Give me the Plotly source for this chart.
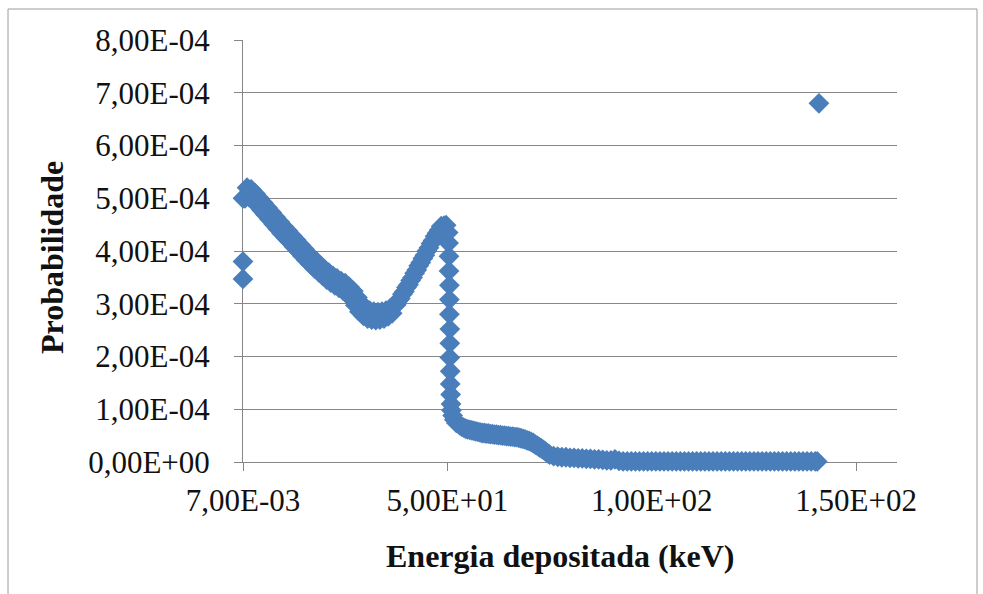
import plotly.graph_objects as go

# ---- data (energy in keV, probability in units of 1e-4) ----
# main series (upper track of the noisy low-energy region, then the rest)
energia_kev = [
    0.007, 0.007, 0.007,
    1, 2, 3, 4, 5, 6, 7, 8, 9, 10,
    11, 12, 13, 14, 15, 16, 17, 18, 19, 20,
    21, 22, 23, 24, 25, 26, 27, 28, 29, 30,
    31, 32, 33, 34, 35, 36, 37, 38, 39, 40,
    41, 42, 43, 44, 45, 46, 47, 48, 48.5, 49.2,
    49.7, 50.2, 50.3, 50.4, 50.4, 50.5, 50.5, 50.5, 50.6, 50.6,
    50.6, 50.7, 50.7, 50.8, 50.9, 51.0, 51.3, 51.7, 52.2, 53,
    54, 55, 56, 57, 58, 59, 60, 61, 62, 63,
    64, 65, 66, 67, 68, 69, 70, 71, 72, 73,
    74, 75, 76, 77, 78, 79, 80, 81, 82, 83,
    84, 85, 86, 87, 88, 89, 90, 91, 92, 93,
    94, 95, 96, 97, 98, 99, 100, 101, 102, 103,
    104, 105, 106, 107, 108, 109, 110, 111, 112, 113,
    114, 115, 116, 117, 118, 119, 120, 121, 122, 123,
    124, 125, 126, 127, 128, 129, 130, 131, 132, 133,
    134, 135, 136, 137, 138, 139, 140, 140.5, 140.9,
]
prob_1e4 = [
    5.00, 3.80, 3.47,
    5.20, 5.17, 5.09, 5.00, 4.91, 4.82, 4.73, 4.64, 4.55, 4.46,
    4.38, 4.29, 4.21, 4.12, 4.04, 3.95, 3.87, 3.80, 3.72, 3.65,
    3.59, 3.53, 3.48, 3.43, 3.39, 3.32, 3.24, 3.12, 3.00, 2.92,
    2.87, 2.85, 2.84, 2.85, 2.87, 2.91, 2.96, 3.06, 3.18, 3.31,
    3.44, 3.58, 3.72, 3.86, 4.00, 4.14, 4.28, 4.40, 4.47, 4.48,
    4.49, 4.35, 4.15, 3.90, 3.62, 3.35, 3.08, 2.80, 2.52, 2.25,
    1.98, 1.72, 1.48, 1.28, 1.10, 0.98, 0.88, 0.80, 0.74, 0.70,
    0.65, 0.62, 0.60, 0.58, 0.56, 0.55, 0.54, 0.53, 0.52, 0.51,
    0.50, 0.49, 0.48, 0.47, 0.45, 0.43, 0.40, 0.36, 0.31, 0.26,
    0.20, 0.14, 0.11, 0.10, 0.09, 0.09, 0.08, 0.08, 0.07, 0.07,
    0.06, 0.06, 0.05, 0.05, 0.04, 0.03, 0.03, 0.05, 0.02, 0.01,
    0.01, 0.01, 0.01, 0.01, 0.01, 0.01, 0.01, 0.01, 0.01, 0.01,
    0.01, 0.01, 0.01, 0.01, 0.01, 0.01, 0.01, 0.01, 0.01, 0.01,
    0.01, 0.01, 0.01, 0.01, 0.01, 0.01, 0.01, 0.01, 0.01, 0.01,
    0.01, 0.01, 0.01, 0.01, 0.01, 0.01, 0.01, 0.01, 0.01, 0.01,
    0.01, 0.01, 0.01, 0.01, 0.01, 0.01, 0.01, 0.01, 6.80,
]
# intermediate points (lower track of the noisy region, rise and plateau)
energia_kev_meio = [
    0.5, 1.5, 2.5, 3.5, 4.5, 5.5, 6.5, 7.5, 8.5, 9.5,
    10.5, 11.5, 12.5, 13.5, 14.5, 15.5, 16.5, 17.5, 18.5, 19.5,
    20.5, 21.5, 22.5, 23.5, 24.5, 25.5, 26.5, 27.5, 28.5, 29.5,
    30.5, 31.5, 32.5, 33.5, 34.5, 35.5, 36.5, 37.5, 38.5, 39.5,
    40.5, 41.5, 42.5, 43.5, 44.5, 45.5, 46.5, 47.5, 53.5, 54.5,
    55.5, 56.5, 57.5, 58.5, 59.5, 60.5, 61.5, 62.5, 63.5, 64.5,
    65.5, 66.5, 67.5, 68.5, 69.5, 70.5, 71.5, 72.5, 73.5, 74.5,
]
prob_meio_1e4 = [
    5.00, 5.02, 4.96, 4.87, 4.78, 4.69, 4.60, 4.51, 4.42, 4.33,
    4.25, 4.17, 4.08, 4.00, 3.91, 3.83, 3.75, 3.67, 3.60, 3.53,
    3.46, 3.40, 3.35, 3.30, 3.25, 3.19, 3.10, 2.97, 2.85, 2.77,
    2.72, 2.70, 2.69, 2.70, 2.72, 2.76, 2.82, 2.98, 3.10, 3.23,
    3.36, 3.50, 3.64, 3.78, 3.92, 4.06, 4.20, 4.34, 0.67, 0.63,
    0.61, 0.59, 0.57, 0.55, 0.54, 0.53, 0.52, 0.51, 0.50, 0.49,
    0.48, 0.47, 0.46, 0.44, 0.41, 0.38, 0.33, 0.28, 0.23, 0.17,
]

x_tick_vals = [0.007, 50, 100, 150]
x_tick_text = ["7,00E-03", "5,00E+01", "1,00E+02", "1,50E+02"]
y_tick_vals = [0, 1e-4, 2e-4, 3e-4, 4e-4, 5e-4, 6e-4, 7e-4, 8e-4]
y_tick_text = ["0,00E+00", "1,00E-04", "2,00E-04", "3,00E-04", "4,00E-04",
               "5,00E-04", "6,00E-04", "7,00E-04", "8,00E-04"]

x_title = "Energia depositada (keV)"
y_title = "Probabilidade"

xs = energia_kev + energia_kev_meio
ys = [v * 1e-4 for v in prob_1e4 + prob_meio_1e4]

# ---- figure ----
W, H = 983, 594
L, R, T, B = 243, 86, 40, 132
pw, ph = W - L - R, H - T - B

def px(x):
    return (x - L) / pw

def py(y):
    return (H - B - y) / ph

grid = "#878787"
serif = "Liberation Serif, Times New Roman, serif"

fig = go.Figure(go.Scatter(
    x=xs, y=ys, mode="markers",
    marker=dict(symbol="diamond", size=16, color="#4a7ebb", line=dict(width=0)),
    cliponaxis=False, showlegend=False,
))

fig.update_layout(
    width=W, height=H,
    margin=dict(l=L, r=R, t=T, b=B, pad=0),
    paper_bgcolor="white", plot_bgcolor="white",
    font=dict(family=serif, size=31, color="#111111"),
    xaxis=dict(
        range=[0.007, 160], tickmode="array", tickvals=x_tick_vals, ticktext=x_tick_text,
        showgrid=False, zeroline=False, showline=True, linecolor=grid, linewidth=1,
        ticks="outside", ticklen=8, tickcolor=grid, tickwidth=1,
        ticklabelstandoff=3, layer="below traces",
    ),
    yaxis=dict(
        range=[0, 8e-4], tickmode="array", tickvals=y_tick_vals, ticktext=y_tick_text,
        showgrid=True, gridcolor=grid, gridwidth=1, zeroline=False,
        showline=True, linecolor=grid, linewidth=1,
        ticks="outside", ticklen=8, tickcolor=grid, tickwidth=1,
        ticklabelstandoff=18, layer="below traces",
    ),
    annotations=[
        dict(text=f"<b>{x_title}</b>", xref="paper", yref="paper",
             x=px(560), y=py(556), xanchor="center", yanchor="middle",
             showarrow=False, font=dict(family=serif, size=32, color="#111111")),
        dict(text=f"<b>{y_title}</b>", xref="paper", yref="paper",
             x=px(52), y=py(258), xanchor="center", yanchor="middle", textangle=-90,
             showarrow=False, font=dict(family=serif, size=32, color="#111111")),
    ],
    shapes=[
        dict(type="rect", xref="paper", yref="paper",
             x0=px(8), x1=px(977), y0=py(620), y1=py(9),
             line=dict(color="#9a9a9a", width=1), fillcolor="rgba(0,0,0,0)", layer="below"),
    ],
)

fig.write_html("out.html")
